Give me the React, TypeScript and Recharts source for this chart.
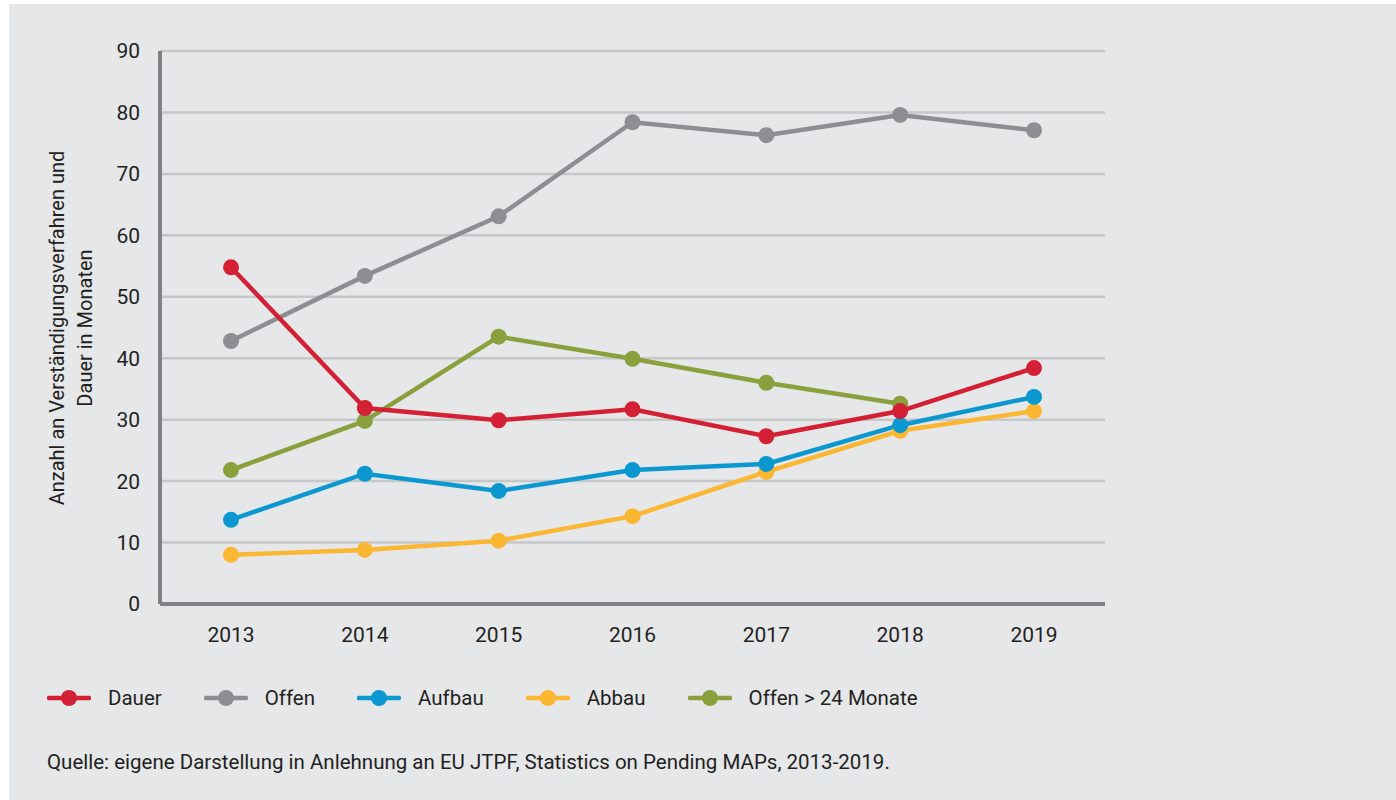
import React from 'react'
import { LineChart, Line, XAxis, YAxis, CartesianGrid } from 'recharts'

const years = ['2013', '2014', '2015', '2016', '2017', '2018', '2019']
const dauer = [54.8, 31.9, 29.9, 31.7, 27.3, 31.4, 38.4]
const offen = [42.8, 53.4, 63.1, 78.4, 76.3, 79.6, 77.1]
const aufbau = [13.7, 21.2, 18.4, 21.8, 22.8, 29.1, 33.7]
const abbau = [8.0, 8.8, 10.3, 14.3, 21.5, 28.2, 31.4]
const offen24 = [21.8, 29.8, 43.5, 39.9, 36.0, 32.6, null]
const yTicks = [0, 10, 20, 30, 40, 50, 60, 70, 80, 90]

const series = [
  { key: 'dauer', name: 'Dauer', color: '#d42034' },
  { key: 'offen', name: 'Offen', color: '#8d8e91' },
  { key: 'aufbau', name: 'Aufbau', color: '#0b97cf' },
  { key: 'abbau', name: 'Abbau', color: '#fbb731' },
  { key: 'offen24', name: 'Offen > 24 Monate', color: '#8aa03c' },
]

// draw order: green first, red last
const drawOrder = ['offen24', 'abbau', 'aufbau', 'offen', 'dauer']

const data = years.map((y, i) => ({
  year: y,
  dauer: dauer[i],
  offen: offen[i],
  aufbau: aufbau[i],
  abbau: abbau[i],
  offen24: offen24[i],
}))

const font = 'Roboto, "Noto Sans", sans-serif'
const textColor = '#231f20'

const App = () => {
  return (
    <div
      style={{
        position: 'absolute',
        left: 9,
        top: 4,
        width: 1387,
        height: 796,
        background: '#e6e7e9',
        fontFamily: font,
        color: textColor,
      }}
    >
      <LineChart
        width={1387}
        height={660}
        data={data}
        margin={{ top: 47, right: 291, left: 0, bottom: 0 }}
      >
        <CartesianGrid
          horizontal
          vertical={false}
          stroke="#c6c7c9"
          strokeWidth={2.5}
        />
        <XAxis
          dataKey="year"
          height={60}
          padding={{ left: 71, right: 71 }}
          axisLine={{ stroke: '#808184', strokeWidth: 4 }}
          tickLine={false}
          tick={{ fill: textColor, fontSize: 21, fontFamily: font }}
          dy={15}
        />
        <YAxis
          width={151}
          domain={[0, 90]}
          ticks={yTicks}
          interval={0}
          axisLine={{ stroke: '#808184', strokeWidth: 4 }}
          tickLine={false}
          tick={{ fill: textColor, fontSize: 21, fontFamily: font }}
          dx={-12}
        />
        {drawOrder.map((k) => {
          const s = series.find((x) => x.key === k)!
          return (
            <Line
              key={k}
              dataKey={k}
              name={s.name}
              stroke={s.color}
              strokeWidth={4.5}
              dot={{ r: 8, fill: s.color, stroke: 'none' }}
              activeDot={false}
              isAnimationActive={false}
            />
          )
        })}
      </LineChart>

      {/* rotated y axis title */}
      <div
        style={{
          position: 'absolute',
          left: 51 - 9,
          top: 330 - 4,
          width: 0,
          height: 0,
        }}
      >
        <div
          style={{
            position: 'absolute',
            width: 500,
            left: -250 + 20,
            top: -30,
            textAlign: 'center',
            transform: 'rotate(-90deg)',
            fontSize: 20,
            lineHeight: '28px',
          }}
        >
          Anzahl an Verständigungsverfahren und
          <br />
          Dauer in Monaten
        </div>
      </div>

      {/* legend */}
      <div
        style={{
          position: 'absolute',
          left: 47 - 9,
          top: 698 - 4 - 14,
          height: 28,
          display: 'flex',
          alignItems: 'center',
          fontSize: 20.5,
        }}
      >
        {series.map((s) => (
          <div
            key={s.key}
            style={{ display: 'flex', alignItems: 'center', marginRight: 42 }}
          >
            <svg width={44} height={18} style={{ marginRight: 17 }}>
              <line
                x1={2}
                y1={9}
                x2={42}
                y2={9}
                stroke={s.color}
                strokeWidth={4.5}
                strokeLinecap="round"
              />
              <circle cx={22} cy={9} r={8} fill={s.color} />
            </svg>
            <span>{s.name}</span>
          </div>
        ))}
      </div>

      <div
        style={{
          position: 'absolute',
          left: 47 - 9,
          top: 762 - 4 - 14,
          fontSize: 20.5,
          lineHeight: '28px',
        }}
      >
        Quelle: eigene Darstellung in Anlehnung an EU JTPF, Statistics on
        Pending MAPs, 2013-2019.
      </div>
    </div>
  )
}

export default App
